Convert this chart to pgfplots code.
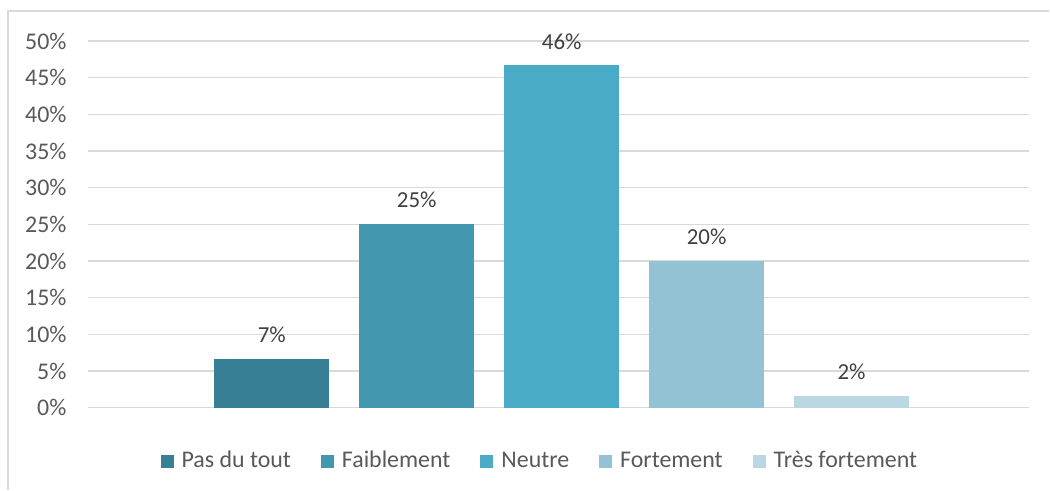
\documentclass[border=0pt]{standalone}
\usepackage{pgfplots}
\pgfplotsset{compat=1.18}
\usepackage{fontspec}
\setmainfont{Carlito}
\definecolor{cA}{HTML}{367F95}
\definecolor{cB}{HTML}{4397AF}
\definecolor{cC}{HTML}{4AABC6}
\definecolor{cD}{HTML}{93C2D4}
\definecolor{cE}{HTML}{BBD7E3}
\definecolor{gridc}{HTML}{D9D9D9}
\definecolor{txt}{HTML}{595959}
\definecolor{lbl}{HTML}{404040}
\begin{document}
\begin{tikzpicture}[x=1bp,y=1bp]
\fill[white] (0,0) rectangle (1050,490);
\draw[gridc,line width=1.2bp] (8,0) -- (8,479) -- (1050,479);
\begin{axis}[
  at={(88bp,82bp)}, anchor=south west,
  scale only axis, width=942bp, height=367bp,
  ybar=30bp, bar width=115bp,
  xmin=-1.0064, xmax=0.9936, ymin=0, ymax=50,
  xtick=\empty, ytick={0,5,...,50},
  yticklabel={\pgfmathprintnumber{\tick}\%},
  /pgf/number format/assume math mode=true,
  axis line style={draw=none}, major tick length=0pt,
  ymajorgrids, grid style={gridc,line width=1.2bp},
  yticklabel style={font=\fontsize{24}{28}\selectfont,text=txt,xshift=-18bp},
  nodes near coords, point meta=explicit symbolic,
  every node near coord/.append style={font=\fontsize{23}{27}\selectfont,text=lbl,inner sep=0pt,yshift=16bp,anchor=south},
  legend style={at={(0.48,-0.147)},anchor=center,draw=none,fill=none,
    legend columns=5,font=\fontsize{24}{28}\selectfont,text=txt,
    nodes={text height=17bp,text depth=5bp},
    /tikz/every even column/.append style={column sep=28bp}},
  legend cell align=left,
  legend image code/.code={\fill[#1] (0bp,-6.5bp) rectangle (13bp,6.5bp); \path (19bp,0bp);},
  clip=false]
\addplot[fill=cA,draw=none] coordinates {(0,6.67) [7\%]};
\addplot[fill=cB,draw=none] coordinates {(0,25.0) [25\%]};
\addplot[fill=cC,draw=none] coordinates {(0,46.67) [46\%]};
\addplot[fill=cD,draw=none] coordinates {(0,20.0) [20\%]};
\addplot[fill=cE,draw=none] coordinates {(0,1.67) [2\%]};
\legend{Pas du tout, Faiblement, Neutre, Fortement, Très fortement}
\end{axis}
\end{tikzpicture}
\end{document}
